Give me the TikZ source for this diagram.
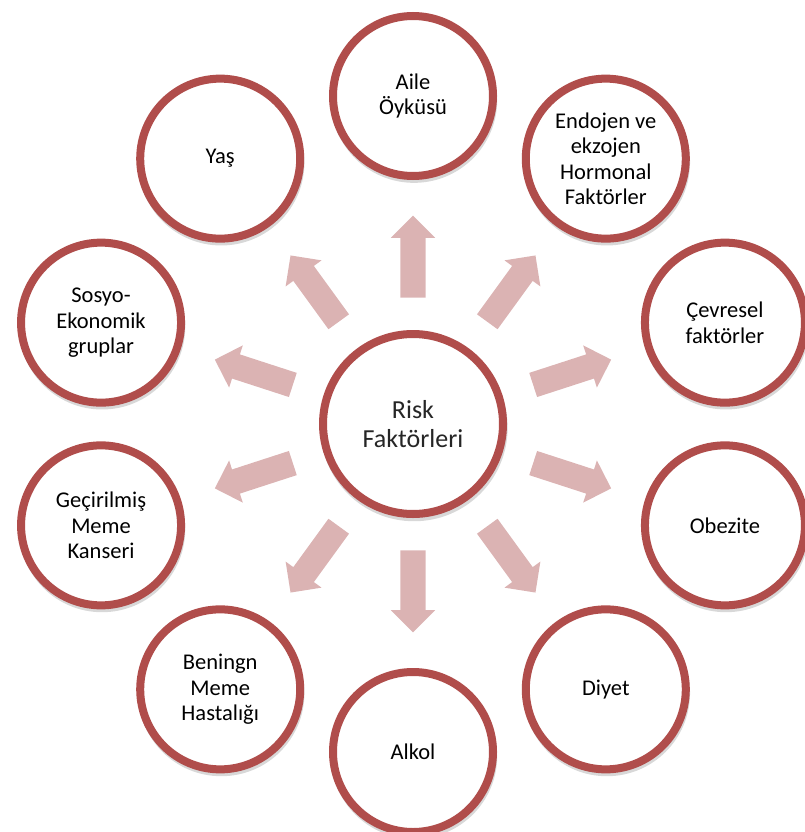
\documentclass[tikz,border=0pt]{standalone}
\usepackage{fontspec}
\setmainfont{Carlito}
\usetikzlibrary{shapes.arrows,shadows,calc}
\definecolor{ringc}{HTML}{B04D4B}
\definecolor{arrc}{HTML}{DBB3B3}
\begin{document}
\begin{tikzpicture}[x=1pt,y=1pt,
  ringshadow/.style={drop shadow={shadow xshift=1pt, shadow yshift=-3.5pt, shadow scale=1.04, opacity=0.22, fill=black!70}},
  outer/.style={circle, draw=ringc, line width=8pt, fill=white, minimum size=160pt, inner sep=0pt, align=center,
    font=\fontsize{22.5}{25.5}\selectfont, text=black, ringshadow},
  hub/.style={circle, draw=ringc, line width=8pt, fill=white, minimum size=180pt, inner sep=0pt, align=center,
    font=\fontsize{26}{29}\selectfont, text=black!85, ringshadow},
  blockarrow/.style={single arrow, fill=arrc, draw=none, minimum height=82pt,
    single arrow head extend=9.5pt, single arrow tip angle=90, inner xsep=0pt, inner ysep=12.5pt}]
\useasboundingbox (0,0) rectangle (805,-832);
\coordinate (C) at (413,-424);
\node[hub] (risk) at (C) {Risk\\Faktörleri};
\node[outer] (aile)   at ($(C)+(90:328)$)  {Aile\\Öyküsü};
\node[outer] (endo)   at ($(C)+(54:328)$)  {Endojen ve\\ekzojen\\Hormonal\\Faktörler};
\node[outer] (cevre)  at ($(C)+(18:328)$)  {Çevresel\\faktörler};
\node[outer] (obez)   at ($(C)+(-18:328)$) {Obezite};
\node[outer] (diyet)  at ($(C)+(-54:328)$) {Diyet};
\node[outer] (alkol)  at ($(C)+(-90:328)$) {Alkol};
\node[outer] (benign) at ($(C)+(234:328)$) {Beningn\\Meme\\Hastalığı};
\node[outer] (gecir)  at ($(C)+(198:328)$) {Geçirilmiş\\Meme\\Kanseri};
\node[outer] (sosyo)  at ($(C)+(162:328)$) {Sosyo-\\Ekonomik\\gruplar};
\node[outer] (yas)    at ($(C)+(126:328)$) {Yaş};
\foreach \a/\n in {90/a1,54/a2,18/a3,-18/a4,-54/a5,-90/a6,234/a7,198/a8,162/a9,126/a10}{
  \node[blockarrow, rotate=\a] (\n) at ($(C)+(\a:161)$) {};
}
\end{tikzpicture}
\end{document}
